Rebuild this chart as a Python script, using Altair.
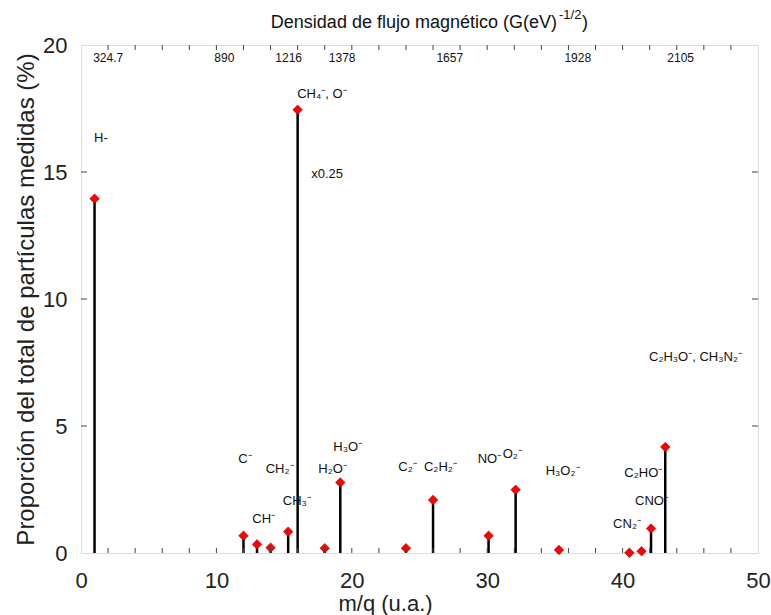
import altair as alt
import pandas as pd

# ---- data ----
mq = [1, 12, 13, 14, 15.3, 16, 18, 19.15, 24, 26, 30.1, 32.1, 35.3, 40.5, 41.4, 42.1, 43.15]
prop = [13.95, 0.68, 0.34, 0.21, 0.84, 17.45, 0.19, 2.78, 0.19, 2.09, 0.68, 2.49, 0.12, 0.01, 0.07, 0.96, 4.17]

ann_text = ["H-", "CH\u2084\u207b, O\u207b", "x0.25", "C\u207b", "CH\u2082\u207b", "CH\u207b", "CH\u2083\u207b",
            "H\u2082O\u207b", "H\u2083O\u207b", "C\u2082\u207b", "C\u2082H\u2082\u207b", "NO\u207b", "O\u2082\u207b",
            "H\u2083O\u2082\u207b", "C\u2082H\u2083O\u207b, CH\u2083N\u2082\u207b", "C\u2082HO\u207b", "CNO\u207b", "CN\u2082\u207b"]
ann_x = [0.96, 15.97, 17.0, 11.62, 13.64, 12.65, 14.9, 17.53, 18.63, 23.43, 25.33, 29.3, 31.14, 34.32, 41.95, 40.13, 40.92, 39.3]
ann_y = [16.17, 17.9, 14.78, 3.56, 3.14, 1.17, 1.89, 3.16, 4.03, 3.24, 3.24, 3.53, 3.73, 3.07, 7.57, 3.0, 1.89, 1.0]

top_labels = ["324.7", "890", "1216", "1378", "1657", "1928", "2105"]
top_x = [0.9, 9.85, 14.35, 18.3, 26.25, 35.7, 43.3]
top_y = [19.33] * 7

x_tick_vals = list(range(2, 50, 2))
y_tick_vals = [5, 10, 15]

W, H = 677, 508
FONT = "Liberation Sans"

xs = alt.Scale(domain=[0, 50], nice=False)
ys = alt.Scale(domain=[0, 20], nice=False)

df = pd.DataFrame({"mq": mq, "prop": prop})
dann = pd.DataFrame({"t": ann_text, "x": ann_x, "y": ann_y})
dtop = pd.DataFrame({"t": top_labels, "x": top_x, "y": top_y})
dxt = pd.DataFrame({"v": x_tick_vals})
dyt = pd.DataFrame({"v": y_tick_vals})

xaxis = alt.Axis(values=[0, 10, 20, 30, 40, 50], ticks=False, tickSize=0, domain=False, grid=False,
                 labelFlush=False, labelFontSize=22, labelPadding=17, labelColor="#222", title="m/q (u.a.)",
                 titleFontSize=22, titleFontWeight="normal", titleColor="#222", titlePadding=2, titleX=304)
yaxis = alt.Axis(values=[0, 5, 10, 15, 20], ticks=False, tickSize=0, domain=False, grid=False,
                 labelFlush=False, labelFontSize=22, labelPadding=14, labelColor="#222",
                 title="Proporción del total de partículas medidas (%)",
                 titleFontSize=24, titleFontWeight="normal", titleColor="#222", titlePadding=4)

base = alt.Chart(df)
stems = base.mark_rule(color="black", strokeWidth=2.5).encode(
    x=alt.X("mq:Q", scale=xs, axis=xaxis),
    y=alt.Y("prop:Q", scale=ys, axis=yaxis),
    y2=alt.datum(0),
)
pts = base.mark_point(shape="diamond", filled=True, fill="#ff0000", stroke="#990000",
                      strokeWidth=0.6, size=90, opacity=1).encode(
    x=alt.X("mq:Q", scale=xs), y=alt.Y("prop:Q", scale=ys))

ann = alt.Chart(dann).mark_text(align="left", baseline="alphabetic", fontSize=13, font=FONT, color="#111").encode(
    x=alt.X("x:Q", scale=xs), y=alt.Y("y:Q", scale=ys), text="t:N")
top = alt.Chart(dtop).mark_text(align="left", baseline="alphabetic", fontSize=12, font=FONT, color="#111").encode(
    x=alt.X("x:Q", scale=xs), y=alt.Y("y:Q", scale=ys), text="t:N")

tick_col = "#444"
xt_bot = alt.Chart(dxt).mark_rule(color=tick_col, strokeWidth=1).encode(
    x=alt.X("v:Q", scale=xs), y=alt.value(H), y2=alt.value(H - 5))
xt_top = alt.Chart(dxt).mark_rule(color=tick_col, strokeWidth=1).encode(
    x=alt.X("v:Q", scale=xs), y=alt.value(0), y2=alt.value(5))
yt_l = alt.Chart(dyt).mark_rule(color=tick_col, strokeWidth=1).encode(
    y=alt.Y("v:Q", scale=ys), x=alt.value(0), x2=alt.value(6))
yt_r = alt.Chart(dyt).mark_rule(color=tick_col, strokeWidth=1).encode(
    y=alt.Y("v:Q", scale=ys), x=alt.value(W), x2=alt.value(W - 6))

title_df = pd.DataFrame({"a": [0]})
t_main = alt.Chart(title_df).mark_text(align="right", baseline="alphabetic", fontSize=18, font=FONT, color="#111",
                                       text="Densidad de flujo magnético (G(eV)").encode(
    x=alt.value(476), y=alt.value(-17))
t_sup = alt.Chart(title_df).mark_text(align="left", baseline="alphabetic", fontSize=13, font=FONT, color="#111",
                                      text="-1/2").encode(x=alt.value(478), y=alt.value(-26))
t_close = alt.Chart(title_df).mark_text(align="left", baseline="alphabetic", fontSize=18, font=FONT, color="#111",
                                        text=")").encode(x=alt.value(501), y=alt.value(-17))

chart = alt.layer(stems, pts, ann, top, xt_bot, xt_top, yt_l, yt_r, t_main, t_sup, t_close).properties(
    width=W, height=H,
    autosize=alt.AutoSizeParams(type="none"),
    padding={"left": 81, "top": 45, "right": 13, "bottom": 62},
).configure_view(stroke="#555", strokeWidth=1).configure(font=FONT).configure_axis(labelFont=FONT, titleFont=FONT)

chart.save("out.html", embed_options={"renderer": "svg", "actions": False})
